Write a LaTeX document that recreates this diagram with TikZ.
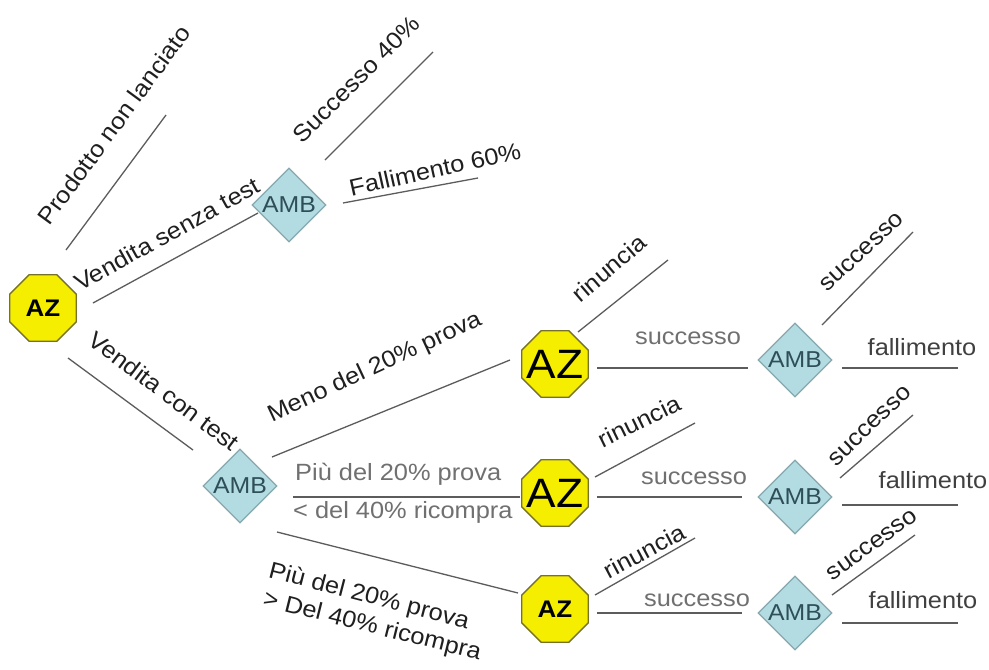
\documentclass[tikz,border=0pt]{standalone}
\usepackage{fontspec}
\setmainfont[FakeStretch=1.08]{Liberation Sans}
\usetikzlibrary{shapes.geometric}

\definecolor{azfill}{HTML}{F5EE00}
\definecolor{azdraw}{HTML}{77722A}
\definecolor{ambfill}{HTML}{B3DCE2}
\definecolor{ambdraw}{HTML}{86A8AE}
\definecolor{ambtext}{HTML}{2E4E58}
\definecolor{linkgray}{HTML}{5C5C5C}
\definecolor{softgray}{HTML}{707070}
\definecolor{darkgray}{HTML}{404040}

\tikzset{
  azbox/.style={regular polygon, regular polygon sides=8, minimum size=72pt,
    inner sep=0pt, fill=azfill, draw=azdraw, line width=1.4pt},
  azbold/.style={azbox, label={[inner sep=0pt, font=\bfseries\fontsize{24}{24}\selectfont]center:AZ}},
  azbig/.style={azbox, label={[inner sep=0pt, font=\fontsize{41}{41}\selectfont]center:AZ}},
  ambbox/.style={diamond, minimum width=74pt, minimum height=74pt, inner sep=0pt,
    fill=ambfill, draw=ambdraw, line width=1.2pt, text=ambtext,
    font=\fontsize{23}{23}\selectfont},
  branch/.style={draw=linkgray, line width=1.3pt},
  lab/.style={inner sep=0pt, font=\fontsize{23.5}{28}\selectfont, text=black!88},
  glab/.style={lab, text=softgray},
  flab/.style={lab, text=darkgray}
}

\begin{document}
\begin{tikzpicture}[x=1pt,y=-1pt]
\fill[white] (0,0) rectangle (989,670);
\useasboundingbox (0,0) rectangle (989,670);

% decision (octagon) and chance (diamond) nodes
\node[azbold] (az0) at (43,308) {};
\node[ambbox] (amb1) at (289,205) {AMB};
\node[ambbox] (amb2) at (240,486) {AMB};
\node[azbig] (az1) at (555,364) {};
\node[azbig] (az2) at (555,493) {};
\node[azbold] (az3) at (555,609) {};
\node[ambbox] (amb3) at (795,360) {AMB};
\node[ambbox] (amb4) at (795,497) {AMB};
\node[ambbox] (amb5) at (795,613) {AMB};

% free ends of the terminal branches
\coordinate (e0) at (166,115);
\coordinate (e1) at (433,52);
\coordinate (e2) at (478,178);
\coordinate (e3) at (668,260);
\coordinate (e4) at (913,232);
\coordinate (e5) at (958,368);
\coordinate (e6) at (695,423);
\coordinate (e7) at (913,415);
\coordinate (e8) at (958,505);
\coordinate (e9) at (695,538);
\coordinate (e10) at (915,535);
\coordinate (e11) at (958,623);

% branches
\draw[branch] ([shift={(23,-58)}]az0.center) -- (e0);
\draw[branch] ([shift={(50,-5)}]az0.center) -- ([shift={(-31,8)}]amb1.center);
\draw[branch] ([shift={(36,-45)}]amb1.center) -- (e1);
\draw[branch] ([shift={(54,-2)}]amb1.center) -- (e2);
\draw[branch] ([shift={(25,50)}]az0.center) -- ([shift={(-47,-36)}]amb2.center);
\draw[branch] ([shift={(32,-29)}]amb2.center) -- ([shift={(-45,-4)}]az1.center);
\draw[branch] ([shift={(53,11)}]amb2.center) -- ([shift={(-35,4)}]az2.center);
\draw[branch] ([shift={(37,46)}]amb2.center) -- ([shift={(-37,-16)}]az3.center);
\draw[branch] ([shift={(23,-32)}]az1.center) -- (e3);
\draw[branch] ([shift={(42,4)}]az1.center) -- ([shift={(-47,8)}]amb3.center);
\draw[branch] ([shift={(27,-35)}]amb3.center) -- (e4);
\draw[branch] ([shift={(47,8)}]amb3.center) -- (e5);
\draw[branch] ([shift={(40,-16)}]az2.center) -- (e6);
\draw[branch] ([shift={(42,4)}]az2.center) -- ([shift={(-53,0)}]amb4.center);
\draw[branch] ([shift={(45,-19)}]amb4.center) -- (e7);
\draw[branch] ([shift={(47,8)}]amb4.center) -- (e8);
\draw[branch] ([shift={(40,-14)}]az3.center) -- (e9);
\draw[branch] ([shift={(42,4)}]az3.center) -- ([shift={(-53,0)}]amb5.center);
\draw[branch] ([shift={(37,-18)}]amb5.center) -- (e10);
\draw[branch] ([shift={(47,10)}]amb5.center) -- (e11);

% branch labels
\node[lab, rotate=53.7] (t0) at (114,125) {Prodotto non lanciato};
\node[lab, rotate=29] (t1) at (167,234) {Vendita senza test};
\node[lab, rotate=45] (t2) at (356,79) {Successo 40\%};
\node[lab, rotate=12.6] (t3) at (435,169) {Fallimento 60\%};
\node[lab, rotate=-37] (t4) at (164,391) {Vendita con test};
\node[lab, rotate=25] (t5) at (375,368) {Meno del 20\% prova};
\node[glab, anchor=west] (t6) at (295,474) {Più del 20\% prova};
\node[glab, anchor=west] (t7) at (293,512) {< del 40\% ricompra};
\node[lab, rotate=-14.5] (t8) at (369,597) {Più del 20\% prova};
\node[lab, rotate=-14] (t9) at (372,627) {> Del 40\% ricompra};

\node[lab, rotate=40.5] (r1) at (609,268) {rinuncia};
\node[lab, rotate=26] (r2) at (639,421) {rinuncia};
\node[lab, rotate=28] (r3) at (644,551) {rinuncia};

\node[glab] (s1) at (688,338) {successo};
\node[glab] (s2) at (694,478) {successo};
\node[glab] (s3) at (697,600) {successo};

\node[lab, rotate=43] (u1) at (862,252) {successo};
\node[lab, rotate=44] (u2) at (870,426) {successo};
\node[lab, rotate=36] (u3) at (872,545) {successo};

\node[flab] (f1) at (922,347) {fallimento};
\node[flab] (f2) at (933,480) {fallimento};
\node[flab] (f3) at (923,600) {fallimento};
\end{tikzpicture}
\end{document}
